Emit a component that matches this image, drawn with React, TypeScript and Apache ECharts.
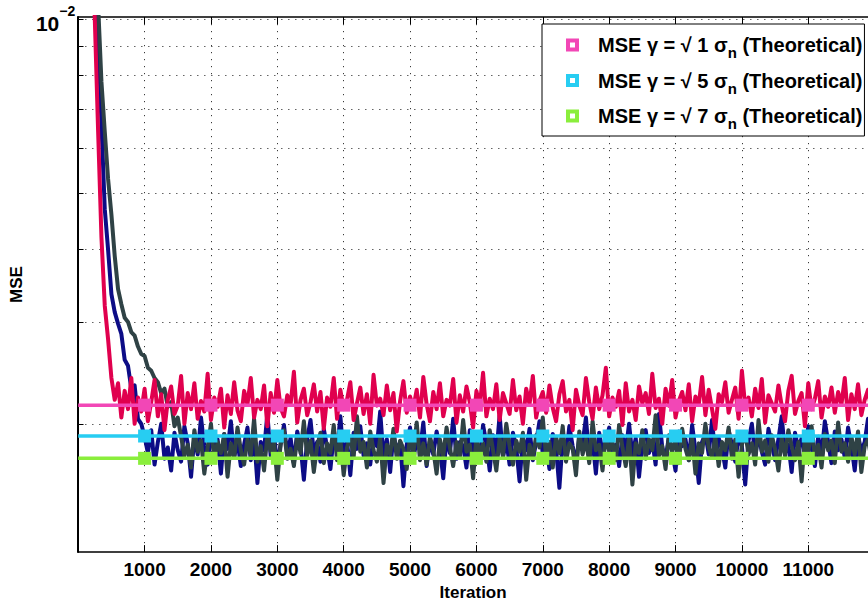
import React, { useEffect, useRef } from 'react';
import * as echarts from 'echarts';

// Iterations: one sample every ITER_STEP iterations, starting at 0
const ITER_STEP = 50;
// MSE values below are in units of 10^-3
const SCALE = 1e-3;

// Simulated MSE, gamma = sqrt(1) sigma_n
const mseGamma1 = [
  60, 45, 32, 22, 15, 10.0, 6.4, 4.2, 3.2, 2.8, 2.4, 2.2,
  2.35, 2.05, 2.28, 2.12, 2.4, 2.0, 2.22, 2.1, 2.3, 2.02,
  2.18, 2.38, 2.06, 2.25, 1.95, 2.2, 2.32, 2.08, 2.15, 2.42,
  2.0, 2.26, 2.12, 2.35, 2.04, 2.19, 2.1, 2.44, 2.03, 2.22,
  2.14, 2.3, 1.97, 2.24, 2.08, 2.36, 2.11, 2.02, 2.28, 2.16,
  2.4, 2.05, 2.2, 2.12, 2.33, 1.98, 2.26, 2.09, 2.38, 2.13,
  2.06, 2.24, 2.16, 2.46, 2.01, 2.2, 2.3, 2.07, 2.18, 2.34,
  2.1, 2.27, 1.96, 2.22, 2.14, 2.4, 2.04, 2.29, 2.12, 2.2,
  2.36, 2.03, 2.17, 2.31, 2.08, 2.25, 2.0, 2.43, 2.15, 2.21,
  2.07, 2.33, 2.11, 2.26, 1.94, 2.19, 2.37, 2.09, 2.23, 2.13,
  2.29, 2.05, 2.41, 2.16, 2.02, 2.27, 2.12, 2.35, 2.06, 2.2,
  2.15, 2.39, 2.01, 2.24, 2.1, 2.32, 2.18, 1.97, 2.28, 2.14,
  2.45, 2.06, 2.21, 2.12, 2.34, 2.03, 2.26, 2.17, 2.08, 2.38,
  2.11, 2.23, 2.0, 2.3, 2.16, 2.42, 2.05, 2.19, 2.27, 2.09,
  2.33, 2.13, 2.02, 2.25, 2.37, 2.1, 2.2, 1.95, 2.29, 2.15,
  2.07, 2.4, 2.18, 2.04, 2.31, 2.12, 2.24, 2.5, 2.06, 2.22,
  2.14, 2.28, 1.99, 2.35, 2.1, 2.2, 2.03, 2.32, 2.17, 2.26,
  2.08, 2.44, 2.13, 2.21, 2.0, 2.3, 2.15, 2.38, 2.05, 2.19,
  2.27, 2.11, 2.34, 2.02, 2.23, 2.16, 2.41, 2.07, 2.29, 2.12,
  1.96, 2.25, 2.18, 2.36, 2.09, 2.2, 2.31, 2.04, 2.47, 2.14,
  2.22, 2.06, 2.3, 2.13, 2.39, 2.01, 2.24, 2.17, 2.1, 2.33,
  2.15, 2.02, 2.28, 2.42, 2.08, 2.19, 2.26, 1.98, 2.35, 2.12,
  2.21, 2.37, 2.05, 2.23, 2.14, 2.31, 2.09, 2.27, 2.16, 2.4,
  2.03, 2.25, 2.12, 2.34, 2.07, 2.2, 2.29, 2.11, 2.38,
];

// Simulated MSE, gamma = sqrt(5) sigma_n
const mseGamma5 = [
  80, 60, 42, 30, 21, 14.5, 9.6, 6.6, 4.7, 4.0,
  3.35, 3.12, 2.98, 2.86, 2.58, 2.52, 2.3, 2.33, 2.04, 2.0,
  1.9, 1.78, 1.95, 1.7, 1.86, 2.0, 1.74, 1.82, 1.66, 1.93,
  1.8, 1.72, 1.98, 1.85, 1.62, 1.9, 1.77, 2.05, 1.83, 1.7,
  1.95, 1.79, 1.88, 1.64, 1.92, 1.81, 2.02, 1.75, 1.87, 1.69,
  1.84, 1.97, 1.73, 1.9, 1.58, 1.86, 1.8, 2.08, 1.76, 1.92,
  1.68, 1.85, 1.99, 1.77, 1.89, 1.71, 1.94, 1.83, 1.6, 1.88,
  2.03, 1.78, 1.86, 1.72, 1.96, 1.82, 1.67, 1.91, 1.79, 2.06,
  1.74, 1.87, 1.63, 1.93, 1.81, 1.98, 1.76, 1.85, 1.7, 1.9,
  1.83, 2.1, 1.75, 1.88, 1.65, 1.92, 1.79, 1.86, 1.56, 1.84,
  1.97, 1.73, 1.89, 1.8, 2.01, 1.69, 1.87, 1.77, 1.94, 1.82,
  1.61, 1.9, 1.78, 2.04, 1.74, 1.86, 1.83, 1.68, 1.95, 1.8,
  1.88, 1.72, 1.99, 1.85, 1.66, 1.91, 1.78, 2.07, 1.75, 1.87,
  1.7, 1.93, 1.82, 1.59, 1.89, 1.8, 1.96, 1.73, 1.86, 2.02,
  1.77, 1.84, 1.67, 1.92, 1.81, 1.55, 1.88, 1.76, 1.98, 1.83,
  1.71, 1.9, 1.85, 2.05, 1.74, 1.87, 1.64, 1.93, 1.79, 1.86,
  1.97, 1.72, 1.84, 1.69, 1.91, 1.8, 2.0, 1.76, 1.89, 1.62,
  1.85, 1.95, 1.78, 1.87, 1.7, 2.08, 1.82, 1.74, 1.9, 1.79,
  1.66, 1.94, 1.83, 1.88, 1.73, 1.99, 1.8, 1.58, 1.86, 1.92,
  1.77, 2.03, 1.75, 1.89, 1.81, 1.68, 1.95, 1.84, 1.72, 1.9,
  1.83, 1.57, 1.87, 2.0, 1.76, 1.91, 1.79, 1.7, 1.96, 1.85,
  1.73, 1.88, 2.06, 1.78, 1.84, 1.65, 1.93, 1.81, 1.89, 1.74,
  1.98, 1.82, 1.69, 1.9, 1.77, 2.02, 1.86, 1.71, 1.94, 1.8,
  1.88, 1.75, 1.97, 1.83, 1.66, 1.91, 1.79, 1.86, 2.04, 1.76, 1.85,
];

// Simulated MSE, gamma = sqrt(7) sigma_n
const mseGamma7 = [
  90, 70, 50, 35, 24, 16, 10.6, 7.8, 6.4, 5.3,
  4.6, 3.9, 3.42, 3.22, 3.05, 3.0, 2.88, 2.84, 2.72, 2.64,
  2.62, 2.5, 2.47, 2.4, 2.36, 2.26, 2.3, 2.14, 2.18, 1.98, 2.05,
  1.9, 1.76, 1.84, 1.68, 1.95, 1.79, 1.87, 1.64, 1.82, 2.0,
  1.73, 1.86, 1.78, 1.92, 1.62, 1.85, 1.75, 1.97, 1.8, 1.7,
  1.88, 1.77, 2.04, 1.72, 1.83, 1.66, 1.91, 1.79, 1.86, 1.6,
  1.84, 1.95, 1.74, 1.81, 1.69, 1.9, 1.78, 2.02, 1.76, 1.87,
  1.65, 1.83, 1.93, 1.71, 1.85, 1.78, 1.99, 1.73, 1.88, 1.63,
  1.82, 1.9, 1.75, 2.06, 1.79, 1.86, 1.68, 1.94, 1.8, 1.72,
  1.89, 1.58, 1.84, 1.77, 1.96, 1.74, 1.87, 1.81, 1.67, 1.92,
  1.78, 2.01, 1.73, 1.85, 1.7, 1.9, 1.8, 1.64, 1.88, 1.76,
  1.97, 1.82, 1.69, 1.86, 1.75, 2.03, 1.79, 1.84, 1.61, 1.9,
  1.77, 1.85, 1.72, 1.95, 1.8, 1.66, 1.89, 1.76, 2.0, 1.83,
  1.7, 1.87, 1.79, 1.93, 1.6, 1.84, 1.74, 1.91, 1.82, 2.05,
  1.75, 1.86, 1.68, 1.9, 1.78, 1.98, 1.72, 1.85, 1.81, 1.63,
  1.94, 1.77, 1.88, 1.71, 2.02, 1.8, 1.84, 1.66, 1.92, 1.79,
  1.86, 1.73, 1.99, 1.82, 1.69, 1.9, 1.57, 1.85, 1.78, 1.95,
  1.74, 1.88, 1.8, 2.07, 1.76, 1.83, 1.67, 1.91, 1.79, 1.87,
  1.71, 1.96, 1.81, 1.73, 1.89, 1.64, 1.85, 1.78, 2.0, 1.82,
  1.75, 1.9, 1.69, 1.86, 1.8, 1.97, 1.74, 1.88, 1.62, 1.84,
  1.93, 1.77, 1.85, 1.7, 2.03, 1.79, 1.87, 1.72, 1.91, 1.81,
  1.66, 1.89, 1.76, 1.95, 1.83, 1.73, 1.86, 1.59, 1.9, 1.78,
  1.98, 1.75, 1.84, 1.68, 1.92, 1.8, 1.87, 1.71, 2.01, 1.79,
  1.85, 1.72, 1.9, 1.77, 1.94, 1.65, 1.83, 1.88, 1.74, 1.86,
];

// Theoretical MSE levels (units of 10^-3) for gamma = sqrt(1), sqrt(5), sqrt(7)
const gammaLabels = ['1', '5', '7'];
const theoryValues = [2.154, 1.905, 1.743];
const markerIterations = [1000, 2000, 3000, 4000, 5000, 6000, 7000, 8000, 9000, 10000, 11000, 12000];

// Axis ranges / gridline levels (units of 10^-3 for y)
const X_MIN = 0;
const X_MAX = 11900;
const X_INTERVAL = 1000;
const Y_MIN = 1.2;
const Y_MAX = 10.1;
const yGridLevels = [2, 3, 4, 5, 6, 7, 8, 9, 10];

const simColors = ['#e0004e', '#0c0c86', '#2f4245'];
const theoryColors = ['#f247b6', '#27cdf2', '#8aee3c'];

const FONT = '"Liberation Sans", Arial, Helvetica, sans-serif';

export default function App() {
  const ref = useRef<HTMLDivElement>(null);

  useEffect(() => {
    if (!ref.current) return;
    const chart = echarts.init(ref.current, null, { renderer: 'svg' });

    const toSeries = (arr: number[]) => arr.map((v, i) => [i * ITER_STEP, v * SCALE]);

    const theoryNames = gammaLabels.map((g) => `MSE γ = √ ${g} σn (Theoretical)`);
    const simNames = gammaLabels.map((g) => `MSE γ = √ ${g} σn (Simulated)`);

    const dotted = { type: [1.2, 5.8] as any, color: '#3a3a3a', width: 1 };

    const markLineData: any[] = [];
    yGridLevels.forEach((v) => {
      markLineData.push([
        { coord: [X_MIN, v * SCALE], lineStyle: { ...dotted } },
        { coord: [X_MAX, v * SCALE] },
      ]);
      markLineData.push([
        { coord: [X_MIN, v * SCALE], lineStyle: { type: 'solid', color: '#000', width: 1 } },
        { coord: [80, v * SCALE] },
      ]);
    });

    const simData = [mseGamma5, mseGamma7, mseGamma1];
    const simOrder = [1, 2, 0];

    const series: any[] = simOrder.map((k, idx) => ({
      type: 'line',
      name: simNames[k],
      data: toSeries(simData[idx]),
      symbol: 'none',
      showSymbol: false,
      silent: true,
      z: 2,
      lineStyle: { width: 4, color: simColors[k], join: 'round' },
      itemStyle: { color: simColors[k] },
      ...(idx === 0
        ? {
            markLine: {
              silent: true,
              symbol: 'none',
              z: 1,
              label: { show: false },
              data: markLineData,
            },
          }
        : {}),
    }));

    theoryValues.forEach((v, k) => {
      series.push({
        type: 'line',
        name: theoryNames[k],
        data: [
          { value: [0, v * SCALE], symbol: 'none' },
          ...markerIterations.map((it) => [it, v * SCALE]),
        ],
        symbol: 'rect',
        symbolSize: 13,
        showAllSymbol: true,
        silent: true,
        z: 3,
        lineStyle: { width: 3.5, color: theoryColors[k] },
        itemStyle: { color: theoryColors[k] },
      });
    });

    const hollowSquare = 'path://M0,0H13V13H0Z M4,4V9H9V4Z';

    chart.setOption({
      animation: false,
      backgroundColor: '#ffffff',
      textStyle: { fontFamily: FONT },
      grid: { left: 75, right: -4, top: 17, bottom: 52, containLabel: false },
      legend: {
        orient: 'vertical',
        left: 542,
        top: 24,
        padding: [6, 2, 5, 24],
        itemGap: 5.5,
        itemWidth: 13,
        itemHeight: 13,
        backgroundColor: '#ffffff',
        borderColor: '#000000',
        borderWidth: 1,
        borderRadius: 0,
        selectedMode: false,
        data: theoryNames.map((n, k) => ({
          name: n,
          icon: hollowSquare,
          itemStyle: { color: theoryColors[k] },
        })),
        formatter: (name: string) => {
          const k = theoryNames.indexOf(name);
          return `{f|MSE γ = √ ${gammaLabels[k]} σ}{sub|n}{t| (Theoretical)}`;
        },
        textStyle: {
          fontFamily: FONT,
          fontWeight: 'bold',
          fontSize: 20,
          color: '#000',
          rich: {
            f: { fontFamily: FONT, fontWeight: 'bold', fontSize: 20, lineHeight: 20, verticalAlign: 'top', padding: [0, 0, 0, 14], color: '#000' },
            t: { fontFamily: FONT, fontWeight: 'bold', fontSize: 20, lineHeight: 20, verticalAlign: 'top', color: '#000' },
            sub: { fontFamily: FONT, fontWeight: 'bold', fontSize: 15, lineHeight: 15, padding: [15, 0, 0, 0], color: '#000' },
          },
        },
      },
      xAxis: [
        {
          type: 'value',
          position: 'bottom',
          min: X_MIN,
          max: X_MAX,
          interval: X_INTERVAL,
          name: 'Iteration',
          nameLocation: 'middle',
          nameGap: 29,
          nameTextStyle: { fontFamily: FONT, fontWeight: 'bold', fontSize: 17, color: '#000' },
          axisLine: { show: true, onZero: false, lineStyle: { color: '#000', width: 1.5 } },
          axisTick: { show: true, inside: true, length: 7, lineStyle: { color: '#000', width: 1 } },
          axisLabel: {
            show: true,
            margin: 8,
            fontFamily: FONT,
            fontWeight: 'bold',
            fontSize: 19,
            color: '#000',
            showMaxLabel: false,
            formatter: (v: number) => (v === 0 || v % 1000 !== 0 ? '' : String(v)),
          },
          splitLine: { show: true, lineStyle: { ...dotted } },
        },
        {
          type: 'value',
          position: 'top',
          min: X_MIN,
          max: X_MAX,
          interval: X_INTERVAL,
          axisLine: { show: true, onZero: false, lineStyle: { color: '#000', width: 1.5 } },
          axisTick: { show: true, inside: true, length: 7, lineStyle: { color: '#000', width: 1 } },
          axisLabel: { show: false },
          splitLine: { show: false },
        },
      ],
      yAxis: {
        type: 'log',
        logBase: 10,
        min: Y_MIN * SCALE,
        max: Y_MAX * SCALE,
        name: 'MSE',
        nameLocation: 'middle',
        nameRotate: 90,
        nameGap: 48,
        nameTextStyle: { fontFamily: FONT, fontWeight: 'bold', fontSize: 17, color: '#000' },
        axisLine: { show: true, onZero: false, lineStyle: { color: '#000', width: 2 } },
        axisTick: { show: false },
        splitLine: { show: false },
        axisLabel: {
          show: true,
          margin: 3,
          fontFamily: FONT,
          fontWeight: 'bold',
          fontSize: 21,
          color: '#000',
          showMinLabel: true,
          showMaxLabel: true,
          formatter: (v: number) => (Math.abs(v - 0.01) < 1e-6 ? '{b|10}{s|−2}' : ''),
          rich: {
            b: { fontFamily: FONT, fontWeight: 'bold', fontSize: 21, lineHeight: 30, verticalAlign: 'bottom', color: '#000' },
            s: { fontFamily: FONT, fontWeight: 'bold', fontSize: 14, lineHeight: 16, verticalAlign: 'top', color: '#000' },
          },
        },
      },
      series,
    });

    return () => chart.dispose();
  }, []);

  return (
    <div
      ref={ref}
      style={{ position: 'fixed', left: 0, top: 0, width: 868, height: 606, background: '#fff' }}
    />
  );
}
